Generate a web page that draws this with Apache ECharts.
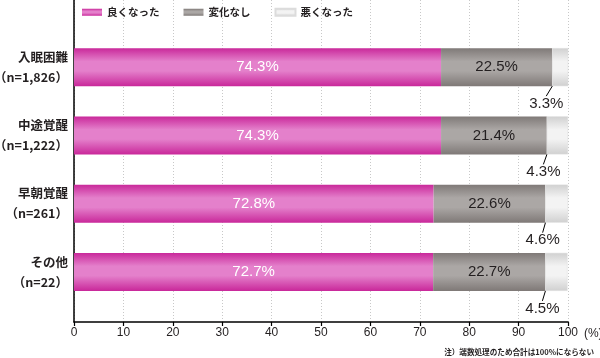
<!DOCTYPE html>
<html><head><meta charset="utf-8">
<script src="https://cdn.jsdelivr.net/npm/echarts@6/dist/echarts.min.js"></script>
<style>html,body{margin:0;padding:0;background:#fff}#c{width:600px;height:358px}</style>
</head><body><div id="c"></div>
<script>
const categories = ['入眠困難\n（n=1,826）', '中途覚醒\n（n=1,222）', '早朝覚醒\n（n=261）', 'その他\n（n=22）'];
const seriesNames = ['良くなった', '変化なし', '悪くなった'];
const better = [74.3, 74.3, 72.8, 72.7];
const same = [22.5, 21.4, 22.6, 22.7];
const worse = [3.3, 4.3, 4.6, 4.5];
const xTicks = [0, 10, 20, 30, 40, 50, 60, 70, 80, 90, 100];
const note = '注）端数処理のため合計は100%にならない';

const FONT = '"Noto Sans CJK JP", "Noto Sans", sans-serif';
const NUM = '"Liberation Sans", Arial, sans-serif';
const TXT = '#231f20';
function vgrad(edge, mid) {
  return new echarts.graphic.LinearGradient(0, 0, 0, 1, [
    {offset: 0, color: edge}, {offset: 0.35, color: mid}, {offset: 0.6, color: mid}, {offset: 1, color: edge}
  ]);
}
const chart = echarts.init(document.getElementById('c'));
chart.setOption({
  animation: false,
  textStyle: {fontFamily: FONT},
  legend: {
    top: 7, left: 82, padding: 0, itemWidth: 20, itemHeight: 7, itemGap: 24,
    textStyle: {fontSize: 10.5, fontWeight: 'bold', color: TXT, fontFamily: FONT},
    data: seriesNames.map(n => ({name: n, icon: 'rect'}))
  },
  grid: [
    {left: 74, width: 494, top: 33, height: 273, outerBoundsMode: 'none', containLabel: false},
    {left: 74, width: 494, top: 0, height: 322, outerBoundsMode: 'none', containLabel: false}
  ],
  xAxis: [
    {gridIndex: 0, type: 'value', min: 0, max: 100, show: false},
    {gridIndex: 1, type: 'value', min: 0, max: 100, interval: 10,
     axisLine: {show: true, lineStyle: {color: '#000', width: 1.5}},
     axisTick: {show: true, length: 4, lineStyle: {color: '#000', width: 1.2}},
     splitLine: {show: true, lineStyle: {color: '#c8c8c8', type: [1, 2], width: 1}},
     axisLabel: {color: TXT, fontSize: 12, margin: 5, fontFamily: NUM,
       formatter: v => String(v)},
     name: '(%)', nameLocation: 'end', nameGap: 3,
     nameTextStyle: {color: TXT, fontSize: 12, fontFamily: NUM, align: 'left', verticalAlign: 'top', padding: [6, 0, 0, 8]}
    }
  ],
  yAxis: [
    {gridIndex: 0, type: 'category', data: categories, inverse: true,
     axisLine: {show: false}, axisTick: {show: false},
     axisLabel: {color: TXT, fontSize: 12.5, fontWeight: 'bold', margin: 6, lineHeight: 20, align: 'right', fontFamily: FONT}},
    {gridIndex: 1, type: 'value', min: 0, max: 1, show: true,
     axisLine: {show: true, lineStyle: {color: '#000', width: 1.5}},
     axisTick: {show: false}, axisLabel: {show: false}, splitLine: {show: false}}
  ],
  series: [
    {name: seriesNames[0], type: 'bar', stack: 't', data: better, barWidth: 38,
     itemStyle: {color: vgrad('#c9289a', '#e480cb')},
     label: {show: true, position: 'inside', color: '#fff', fontSize: 15, fontFamily: NUM,
       formatter: p => p.value.toFixed(1) + '%'}},
    {name: seriesNames[1], type: 'bar', stack: 't', data: same, barWidth: 38,
     itemStyle: {color: vgrad('#7f7977', '#aba7a5')},
     label: {show: true, position: 'inside', color: TXT, fontSize: 15, fontFamily: NUM,
       formatter: p => p.value.toFixed(1) + '%'}},
    {name: seriesNames[2], type: 'bar', stack: 't', data: worse, barWidth: 38,
     itemStyle: {color: vgrad('#d0d0d0', '#f3f3f3'), borderColor: '#dcdcdc', borderWidth: 0.5},
     label: {show: true, position: 'bottom', distance: 10, color: TXT, fontSize: 15, fontFamily: NUM,
       formatter: p => p.value.toFixed(1) + '%'},
     labelLine: {show: true, lineStyle: {color: '#000', width: 1}},
     labelLayout: {dx: -14}}
  ],
  graphic: [
    {type: 'text', right: 6, bottom: 2, style: {text: note, fill: TXT, font: 'bold 7.6px ' + FONT}}
  ]
});
</script></body></html>
